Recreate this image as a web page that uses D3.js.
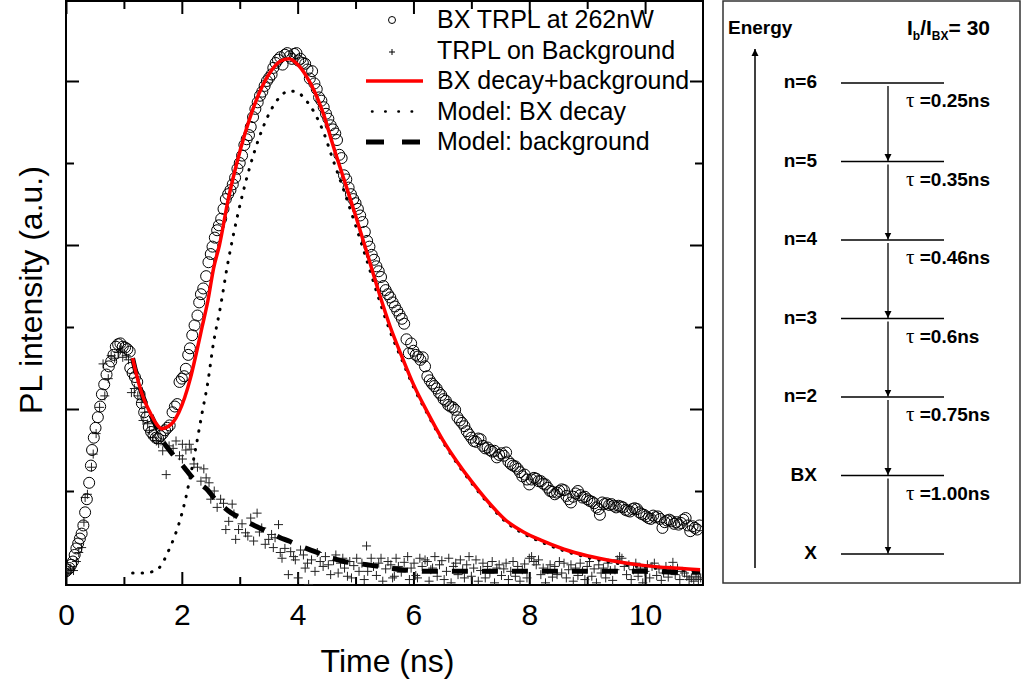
<!DOCTYPE html>
<html>
<head>
<meta charset="utf-8">
<script src="https://cdn.jsdelivr.net/npm/d3@7"></script>
<style>
  body { margin: 0; background: #fff; }
  text { font-family: "Liberation Sans", Arial, sans-serif; }
</style>
</head>
<body>
<script>
// BX TRPL at 262nW, [time ns, PL a.u.]
var bxTrpl = [
  [0.00,0.02],[0.03,0.04],[0.06,0.06],[0.09,0.10],[0.12,0.14],[0.15,0.22],[0.18,0.30],[0.21,0.36],[0.24,0.42],[0.27,0.48],
  [0.30,0.58],[0.33,0.74],[0.36,0.90],[0.40,1.10],[0.43,1.31],[0.45,1.50],[0.48,1.65],[0.51,1.77],[0.55,1.90],[0.59,2.03],
  [0.62,2.18],[0.66,2.30],[0.70,2.42],[0.74,2.52],[0.78,2.58],[0.82,2.66],[0.86,2.76],[0.90,2.79],[0.94,2.80],[0.98,2.76],
  [1.02,2.75],[1.06,2.73],[1.10,2.70],[1.11,2.50],[1.15,2.44],[1.19,2.39],[1.23,2.33],[1.27,2.18],[1.31,2.07],[1.35,1.96],
  [1.39,1.90],[1.43,1.78],[1.47,1.72],[1.51,1.68],[1.55,1.65],[1.59,1.64],[1.63,1.67],[1.67,1.70],[1.71,1.74],[1.75,1.77],
  [1.79,1.80],[1.84,1.96],[1.88,2.03],[1.92,2.06],[1.96,2.33],[2.00,2.37],[2.04,2.40],[2.07,2.49],[2.11,2.66],[2.14,2.74],
  [2.18,2.90],[2.22,3.02],[2.27,3.14],[2.30,3.30],[2.33,3.40],[2.37,3.47],[2.42,3.62],[2.46,3.79],[2.50,3.89],[2.53,3.98],
  [2.57,4.09],[2.61,4.18],[2.64,4.24],[2.68,4.32],[2.72,4.44],[2.76,4.56],[2.80,4.62],[2.84,4.67],[2.88,4.74],[2.92,4.82],
  [2.96,4.93],[3.00,5.00],[3.04,5.09],[3.08,5.22],[3.12,5.29],[3.16,5.34],[3.19,5.44],[3.23,5.56],[3.27,5.66],[3.31,5.74],
  [3.35,5.82],[3.39,5.87],[3.43,5.94],[3.47,6.00],[3.51,6.04],[3.55,6.08],[3.58,6.16],[3.62,6.22],[3.66,6.26],[3.70,6.29],
  [3.74,6.20],[3.78,6.32],[3.82,6.34],[3.86,6.30],[3.90,6.27],[3.94,6.33],[3.98,6.34],[4.01,6.25],[4.05,6.27],[4.09,6.22],
  [4.13,6.21],[4.17,6.14],[4.21,6.03],[4.25,6.12],[4.29,5.97],[4.33,5.90],[4.37,5.80],[4.41,5.76],[4.45,5.68],[4.49,5.60],
  [4.53,5.54],[4.57,5.46],[4.61,5.41],[4.65,5.36],[4.68,5.28],[4.72,5.10],[4.76,5.06],[4.80,4.85],[4.84,4.80],[4.88,4.70],
  [4.92,4.62],[4.96,4.56],[5.00,4.51],[5.04,4.44],[5.08,4.36],[5.12,4.28],[5.16,4.16],[5.20,4.05],[5.24,3.98],[5.28,3.88],
  [5.32,3.82],[5.36,3.74],[5.40,3.68],[5.44,3.61],[5.48,3.50],[5.52,3.45],[5.56,3.40],[5.60,3.36],[5.64,3.30],[5.68,3.25],
  [5.72,3.20],[5.76,3.15],[5.80,3.10],[5.84,3.04],[5.88,2.85],[5.92,2.68],[5.96,2.80],[6.00,2.71],[6.04,2.66],[6.08,2.64],
  [6.12,2.60],[6.16,2.63],[6.20,2.52],[6.24,2.40],[6.28,2.35],[6.32,2.31],[6.36,2.28],[6.40,2.25],[6.44,2.20],[6.48,2.17],
  [6.52,2.12],[6.56,2.10],[6.60,2.05],[6.64,2.03],[6.68,2.02],[6.72,1.99],[6.76,1.90],[6.80,1.86],[6.84,1.83],[6.88,1.79],
  [6.92,1.73],[6.96,1.69],[7.00,1.65],[7.04,1.61],[7.08,1.60],[7.12,1.64],[7.16,1.63],[7.20,1.55],[7.24,1.52],[7.28,1.53],
  [7.32,1.50],[7.36,1.48],[7.40,1.49],[7.44,1.41],[7.48,1.44],[7.52,1.46],[7.56,1.43],[7.60,1.47],[7.64,1.36],[7.68,1.33],
  [7.72,1.31],[7.76,1.30],[7.80,1.27],[7.84,1.23],[7.88,1.18],[7.92,1.20],[7.96,1.14],[8.00,1.08],[8.04,1.14],[8.08,1.16],
  [8.12,1.15],[8.16,1.12],[8.20,1.12],[8.24,1.09],[8.28,1.08],[8.32,1.04],[8.36,1.00],[8.40,0.99],[8.44,0.96],[8.48,0.98],
  [8.52,1.00],[8.56,1.02],[8.60,1.01],[8.64,0.94],[8.68,0.90],[8.72,0.86],[8.76,0.93],[8.80,0.97],[8.84,1.00],[8.88,0.95],
  [8.92,0.92],[8.96,0.93],[9.00,0.90],[9.04,0.88],[9.08,0.87],[9.12,0.85],[9.16,0.80],[9.20,0.78],[9.22,0.71],[9.26,0.86],
  [9.30,0.84],[9.34,0.85],[9.38,0.83],[9.42,0.84],[9.46,0.82],[9.50,0.80],[9.54,0.82],[9.58,0.81],[9.62,0.80],[9.66,0.77],
  [9.70,0.76],[9.74,0.75],[9.78,0.78],[9.82,0.79],[9.86,0.78],[9.90,0.74],[9.94,0.72],[9.98,0.71],[10.02,0.69],[10.06,0.67],
  [10.10,0.66],[10.14,0.70],[10.18,0.68],[10.22,0.69],[10.26,0.66],[10.30,0.55],[10.34,0.62],[10.38,0.64],[10.42,0.65],[10.46,0.63],
  [10.50,0.60],[10.54,0.62],[10.58,0.59],[10.62,0.61],[10.66,0.65],[10.70,0.67],[10.74,0.58],[10.78,0.51],[10.82,0.57],[10.86,0.55],
  [10.90,0.53],[10.94,0.58]
];

// TRPL on background, [time ns, PL a.u.]
var bgTrpl = [
  [0.02,0.01],[0.05,0.03],[0.08,0.05],[0.13,0.03],[0.18,0.14],[0.22,0.25],[0.27,0.31],[0.31,0.62],[0.33,0.92],[0.37,0.96],
  [0.44,1.29],[0.47,1.45],[0.52,1.70],[0.58,2.02],[0.64,2.55],[0.67,2.16],[0.73,2.37],[0.78,2.65],[0.84,2.62],[0.90,2.69],
  [0.94,2.72],[0.98,2.63],[1.04,2.65],[1.08,2.60],[1.13,2.20],[1.18,2.25],[1.24,2.16],[1.30,2.08],[1.33,1.86],[1.36,1.96],
  [1.41,1.82],[1.44,1.74],[1.50,1.65],[1.56,1.61],[1.60,1.58],[1.64,1.61],[1.67,1.49],[1.73,1.20],[1.78,1.55],[1.85,1.52],
  [1.90,1.61],[1.96,1.43],[2.01,1.57],[2.01,1.39],[2.07,1.50],[2.13,1.57],[2.16,1.51],[2.21,1.33],[2.27,1.29],[2.33,1.12],
  [2.38,1.27],[2.42,1.16],[2.47,1.10],[2.50,0.90],[2.56,1.00],[2.61,0.80],[2.67,0.90],[2.72,0.85],[2.76,0.53],[2.81,0.63],
  [2.87,0.84],[2.90,0.72],[2.93,0.41],[2.98,0.53],[3.04,0.60],[3.10,0.49],[3.14,0.45],[3.19,0.67],[3.24,0.39],[3.30,0.73],
  [3.34,0.50],[3.38,0.55],[3.44,0.35],[3.50,0.41],[3.55,0.47],[3.58,0.31],[3.61,0.43],[3.67,0.59],[3.70,0.25],[3.73,0.18],
  [3.78,0.30],[3.84,-0.02],[3.88,0.26],[3.93,0.20],[3.96,0.16],[4.01,-0.06],[4.05,0.28],[4.10,0.22],[4.13,0.06],[4.17,0.12],
  [4.19,-0.14],[4.24,0.16],[4.30,0.02],[4.34,0.25],[4.39,0.14],[4.44,0.08],[4.48,0.20],[4.53,0.10],[4.57,-0.02],[4.62,0.15],
  [4.66,0.22],[4.70,0.00],[4.74,0.12],[4.78,0.18],[4.81,0.06],[4.86,-0.04],[4.90,0.14],[4.93,-0.06],[4.97,0.09],[5.02,0.18],
  [5.06,0.02],[5.11,0.12],[5.15,-0.08],[5.19,0.33],[5.21,0.02],[5.27,0.18],[5.31,0.08],[5.36,-0.03],[5.40,0.12],[5.44,0.18],
  [5.47,-0.10],[5.52,0.05],[5.56,0.14],[5.61,0.10],[5.64,-0.06],[5.67,-0.04],[5.70,0.18],[5.74,0.08],[5.79,0.01],[5.84,0.13],
  [5.90,0.20],[5.93,-0.08],[5.96,0.06],[6.01,0.12],[6.04,-0.03],[6.07,-0.06],[6.11,0.18],[6.15,0.08],[6.20,0.16],[6.24,0.14],
  [6.27,-0.10],[6.30,0.04],[6.33,0.06],[6.37,0.20],[6.41,-0.04],[6.45,0.10],[6.49,0.15],[6.53,-0.08],[6.57,0.02],[6.61,0.18],
  [6.65,-0.12],[6.69,0.08],[6.73,0.12],[6.77,-0.02],[6.81,0.16],[6.85,0.04],[6.88,-0.06],[6.92,0.10],[6.96,0.20],[7.00,-0.04],
  [7.04,0.06],[7.08,0.16],[7.12,-0.10],[7.16,0.03],[7.20,0.12],[7.24,-0.06],[7.28,0.08],[7.32,0.00],[7.36,0.14],[7.40,-0.12],
  [7.44,0.06],[7.48,0.10],[7.52,-0.03],[7.56,0.05],[7.60,0.12],[7.64,-0.08],[7.68,0.02],[7.72,0.14],[7.76,-0.04],[7.80,0.08],
  [7.84,-0.10],[7.88,0.04],[7.92,0.11],[7.96,-0.06],[8.00,0.18],[8.04,0.20],[8.08,0.14],[8.12,0.10],[8.16,0.16],[8.20,-0.02],
  [8.24,0.06],[8.28,-0.12],[8.32,0.04],[8.36,0.10],[8.40,-0.05],[8.44,0.08],[8.48,-0.02],[8.52,0.14],[8.56,0.00],[8.60,0.12],
  [8.64,-0.06],[8.68,0.04],[8.72,0.10],[8.76,-0.10],[8.80,0.06],[8.84,-0.03],[8.88,0.12],[8.92,0.02],[8.96,-0.08],[9.00,0.08],
  [9.04,0.14],[9.08,-0.04],[9.12,0.05],[9.16,-0.12],[9.20,0.10],[9.24,0.00],[9.28,0.06],[9.32,-0.06],[9.36,0.12],[9.40,0.03],
  [9.44,-0.09],[9.48,0.04],[9.52,0.16],[9.56,0.20],[9.60,0.18],[9.64,0.08],[9.68,-0.02],[9.72,0.10],[9.76,-0.08],[9.80,0.04],
  [9.84,0.12],[9.88,-0.04],[9.92,0.06],[9.96,-0.12],[10.00,0.02],[10.04,0.10],[10.08,-0.06],[10.12,0.08],[10.16,0.12],[10.20,-0.03],
  [10.24,0.05],[10.28,-0.09],[10.32,0.00],[10.36,0.08],[10.40,-0.05],[10.44,0.04],[10.48,0.13],[10.52,-0.02],[10.56,0.06],[10.60,-0.08],
  [10.64,0.02],[10.68,0.00],[10.72,-0.04],[10.76,-0.08],[10.80,-0.06],[10.84,-0.10],[10.88,-0.04],[10.92,-0.08],[10.96,-0.06]
];

// model curves, sampled on one time grid
var modelTime = [1.15,1.25,1.35,1.45,1.55,1.65,1.75,1.85,1.95,2.05,2.15,2.25,2.35,2.45,2.55,2.65,2.8,2.95,3.1,3.25,
  3.4,3.55,3.7,3.85,4.0,4.15,4.3,4.45,4.6,4.8,5.0,5.2,5.4,5.6,5.8,6.0,6.25,6.5,6.75,7.0,
  7.3,7.6,7.9,8.2,8.6,9.0,9.5,10.0,10.5,10.95];
var modelSum = [2.62,2.33,2.11,1.96,1.83,1.76,1.78,1.84,1.96,2.14,2.38,2.68,3.00,3.32,3.72,4.00,4.55,5.00,5.38,5.70,
  5.95,6.13,6.24,6.27,6.20,6.06,5.86,5.59,5.24,4.80,4.36,3.90,3.43,3.00,2.64,2.30,1.95,1.63,1.36,1.12,
  0.86,0.64,0.50,0.40,0.29,0.21,0.14,0.09,0.06,0.04];
var modelBX = [0.00,0.00,0.00,0.01,0.03,0.10,0.24,0.40,0.60,0.86,1.19,1.56,1.95,2.33,2.82,3.18,3.80,4.32,4.76,5.13,
  5.43,5.66,5.81,5.88,5.86,5.76,5.60,5.37,5.06,4.66,4.24,3.80,3.35,2.94,2.60,2.27,1.93,1.61,1.34,1.10,
  0.84,0.62,0.48,0.38,0.27,0.19,0.12,0.07,0.04,0.02];
var modelBg = [2.62,2.33,2.11,1.95,1.80,1.63,1.53,1.44,1.36,1.28,1.19,1.12,1.07,1.01,0.92,0.85,0.76,0.69,0.63,0.58,
  0.53,0.48,0.43,0.39,0.34,0.30,0.26,0.22,0.18,0.14,0.12,0.10,0.08,0.06,0.04,0.03,0.02,0.02,0.02,0.02,
  0.02,0.02,0.02,0.02,0.02,0.02,0.02,0.02,0.01,0.01];

var xMajor = [0, 2, 4, 6, 8, 10],
    xMinor = [1, 3, 5, 7, 9],
    yMajor = [2, 4, 6],
    yMinor = [1, 3, 5];

var legendLabels = ["BX TRPL at 262nW", "TRPL on Background", "BX decay+background", "Model: BX decay", "Model: background"];

var levelNames = ["X", "BX", "n=2", "n=3", "n=4", "n=5", "n=6"];
var lifetimes = ["1.00", "0.75", "0.6", "0.46", "0.35", "0.25"];

var width = 1024, height = 693;
var plot = { left: 66, right: 703, top: 1, bottom: 585 };

var svg = d3.select("body").append("svg")
    .attr("width", width)
    .attr("height", height);

var x = d3.scaleLinear().domain([0, 11]).range([plot.left, plot.right]);
var y = d3.scaleLinear().domain([0, 6]).range([573, 81]);

svg.append("clipPath").attr("id", "clip")
  .append("rect")
    .attr("x", plot.left).attr("y", plot.top)
    .attr("width", plot.right - plot.left).attr("height", plot.bottom - plot.top);

// axes, ticks inward on all four sides
function tickAxis(axisFn, scale, values, size, labels) {
  return axisFn(scale).tickValues(values).tickSizeInner(-size).tickSizeOuter(0)
    .tickPadding(labels ? 19 : 0)
    .tickFormat(labels ? d3.format("d") : "");
}
function drawAxis(axis, tx, ty) {
  var g = svg.append("g").attr("transform", "translate(" + tx + "," + ty + ")").call(axis);
  g.select(".domain").remove();
  g.selectAll("line").attr("stroke", "#000").attr("stroke-width", 2);
  g.selectAll("text").attr("font-size", 30).attr("fill", "#000")
    .attr("font-family", "'Liberation Sans', Arial, sans-serif");
  return g;
}
drawAxis(tickAxis(d3.axisBottom, x, xMajor, 13, true), 0, plot.bottom);
drawAxis(tickAxis(d3.axisBottom, x, xMinor, 8, false), 0, plot.bottom);
drawAxis(tickAxis(d3.axisTop, x, xMajor, 13, false), 0, plot.top);
drawAxis(tickAxis(d3.axisTop, x, xMinor, 8, false), 0, plot.top);
drawAxis(tickAxis(d3.axisLeft, y, yMajor, 13, false), plot.left, 0);
drawAxis(tickAxis(d3.axisLeft, y, yMinor, 8, false), plot.left, 0);
drawAxis(tickAxis(d3.axisRight, y, yMajor, 13, false), plot.right, 0);
drawAxis(tickAxis(d3.axisRight, y, yMinor, 8, false), plot.right, 0);

svg.append("rect")
    .attr("x", plot.left).attr("y", plot.top)
    .attr("width", plot.right - plot.left).attr("height", plot.bottom - plot.top)
    .attr("fill", "none").attr("stroke", "#000").attr("stroke-width", 2);

svg.append("text")
    .attr("x", (plot.left + plot.right) / 2 + 3).attr("y", 672)
    .attr("text-anchor", "middle").attr("font-size", 32)
    .text("Time (ns)");
svg.append("text")
    .attr("transform", "translate(42," + 290 + ") rotate(-90)")
    .attr("text-anchor", "middle").attr("font-size", 32)
    .text("PL intensity (a.u.)");

var data = svg.append("g").attr("clip-path", "url(#clip)");

var plusPath = "M-4.5,0H4.5M0,-4.5V4.5";

// background TRPL crosses
data.append("g").selectAll("path")
    .data(bgTrpl)
  .enter().append("path")
    .attr("d", plusPath)
    .attr("transform", function(d) { return "translate(" + x(d[0]) + "," + y(d[1]) + ")"; })
    .attr("stroke", "#222").attr("stroke-width", 1).attr("fill", "none");

// BX TRPL circles
data.append("g").selectAll("circle")
    .data(bxTrpl)
  .enter().append("circle")
    .attr("cx", function(d) { return x(d[0]); })
    .attr("cy", function(d) { return y(d[1]); })
    .attr("r", 5.5)
    .attr("fill", "none").attr("stroke", "#000").attr("stroke-width", 1);

function curve(values) {
  return d3.line()
    .x(function(d, i) { return x(modelTime[i]); })
    .y(function(d) { return y(d); })
    .curve(d3.curveMonotoneX)(values);
}

data.append("path")
    .attr("d", curve(modelBg))
    .attr("fill", "none").attr("stroke", "#000")
    .attr("stroke-width", 5).attr("stroke-dasharray", "16,14");
data.append("path")
    .attr("d", curve(modelBX))
    .attr("fill", "none").attr("stroke", "#000")
    .attr("stroke-width", 3).attr("stroke-linecap", "round").attr("stroke-dasharray", "0.5,9");
data.append("path")
    .attr("d", curve(modelSum))
    .attr("fill", "none").attr("stroke", "#ff0000").attr("stroke-width", 3.5);

// legend
var legend = svg.append("g");
var rowY = function(i) { return 20 + i * 30.5; };
legend.selectAll("text")
    .data(legendLabels)
  .enter().append("text")
    .attr("x", 437)
    .attr("y", function(d, i) { return rowY(i) + 8; })
    .attr("font-size", 25)
    .text(function(d) { return d; });
legend.append("circle").attr("cx", 392).attr("cy", rowY(0)).attr("r", 3.5)
    .attr("fill", "none").attr("stroke", "#000");
legend.append("path").attr("d", "M389,52H395M392,49V55")
    .attr("stroke", "#000").attr("stroke-width", 1);
legend.append("line").attr("x1", 366).attr("x2", 423).attr("y1", rowY(2)).attr("y2", rowY(2))
    .attr("stroke", "#ff0000").attr("stroke-width", 3.5);
legend.append("line").attr("x1", 372).attr("x2", 422).attr("y1", rowY(3)).attr("y2", rowY(3))
    .attr("stroke", "#000").attr("stroke-width", 2.5).attr("stroke-linecap", "round").attr("stroke-dasharray", "0.5,12.7");
legend.append("line").attr("x1", 366).attr("x2", 421).attr("y1", rowY(4)).attr("y2", rowY(4))
    .attr("stroke", "#000").attr("stroke-width", 5).attr("stroke-dasharray", "18,18");

// energy level diagram
var panel = svg.append("g");
panel.append("rect")
    .attr("x", 723).attr("y", 1).attr("width", 297).attr("height", 582)
    .attr("fill", "none").attr("stroke", "#333").attr("stroke-width", 1.5);

var level = d3.scalePoint().domain(levelNames).range([554, 83]);
var boldFont = 19;

panel.append("defs").append("marker")
    .attr("id", "head").attr("viewBox", "0 0 10 10")
    .attr("refX", 10).attr("refY", 5)
    .attr("markerWidth", 7).attr("markerHeight", 12)
    .attr("markerUnits", "userSpaceOnUse").attr("orient", "auto")
  .append("path").attr("d", "M0,0L10,5L0,10Z").attr("fill", "#000");

panel.append("line")
    .attr("x1", 755).attr("x2", 755).attr("y1", 568).attr("y2", 49)
    .attr("stroke", "#000").attr("stroke-width", 1.5).attr("marker-end", "url(#head)");
panel.append("text").attr("x", 728).attr("y", 34)
    .attr("font-size", boldFont).attr("font-weight", "bold").text("Energy");

var ratio = panel.append("text").attr("x", 907).attr("y", 35)
    .attr("font-size", 21).attr("font-weight", "bold");
ratio.append("tspan").text("I");
ratio.append("tspan").attr("font-size", 12).attr("dy", 5).text("b");
ratio.append("tspan").attr("dy", -5).text("/I");
ratio.append("tspan").attr("font-size", 12).attr("dy", 5).text("BX");
ratio.append("tspan").attr("dy", -5).text("= 30");

panel.selectAll(".lvl")
    .data(levelNames)
  .enter().append("line")
    .attr("x1", 841).attr("x2", 944)
    .attr("y1", function(d) { return level(d); })
    .attr("y2", function(d) { return level(d); })
    .attr("stroke", "#000").attr("stroke-width", 1.5);

panel.selectAll(".lvlname")
    .data(levelNames)
  .enter().append("text")
    .attr("x", 817).attr("y", function(d) { return level(d) + 5; })
    .attr("text-anchor", "end")
    .attr("font-size", boldFont).attr("font-weight", "bold")
    .text(function(d) { return d; });

// decay arrows between neighbouring levels
panel.selectAll(".decay")
    .data(lifetimes)
  .enter().append("line")
    .attr("x1", 888).attr("x2", 888)
    .attr("y1", function(d, i) { return level(levelNames[i + 1]) + 3; })
    .attr("y2", function(d, i) { return level(levelNames[i]) - 0.5; })
    .attr("stroke", "#000").attr("stroke-width", 1.3).attr("marker-end", "url(#head)");

var tau = panel.selectAll(".tau")
    .data(lifetimes)
  .enter().append("text")
    .attr("x", 906)
    .attr("y", function(d, i) { return level(levelNames[i + 1]) + 24; })
    .attr("font-size", boldFont).attr("font-weight", "bold");
tau.append("tspan").attr("font-family", "'Liberation Serif', serif").attr("font-weight", "normal")
    .attr("font-size", 21).text("\u03c4");
tau.append("tspan").text(function(d) { return " =" + d + "ns"; });
</script>
</body>
</html>
